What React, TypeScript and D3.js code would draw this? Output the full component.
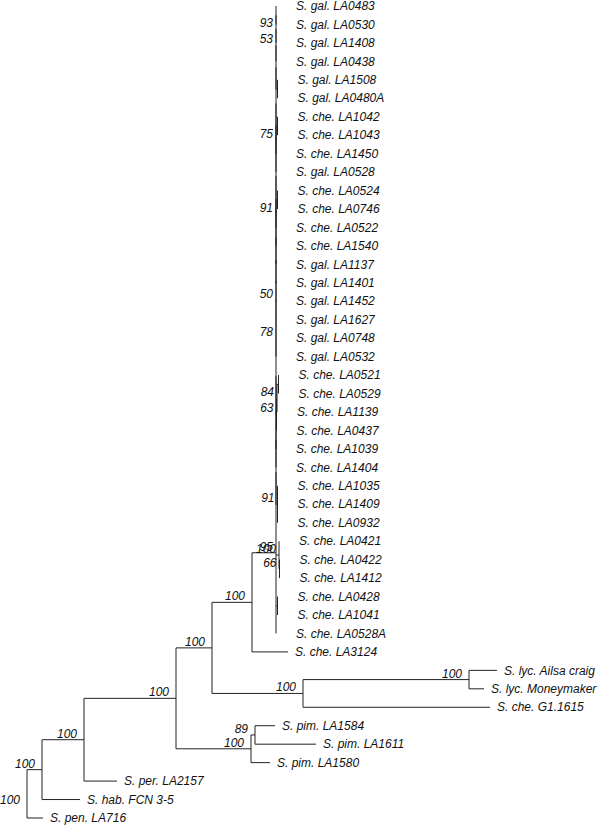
import React from 'react';
import * as d3 from 'd3';

// Leaf taxa, top to bottom
const taxa = [
  'S. gal. LA0483', 'S. gal. LA0530', 'S. gal. LA1408', 'S. gal. LA0438', 'S. gal. LA1508',
  'S. gal. LA0480A', 'S. che. LA1042', 'S. che. LA1043', 'S. che. LA1450', 'S. gal. LA0528',
  'S. che. LA0524', 'S. che. LA0746', 'S. che. LA0522', 'S. che. LA1540', 'S. gal. LA1137',
  'S. gal. LA1401', 'S. gal. LA1452', 'S. gal. LA1627', 'S. gal. LA0748', 'S. gal. LA0532',
  'S. che. LA0521', 'S. che. LA0529', 'S. che. LA1139', 'S. che. LA0437', 'S. che. LA1039',
  'S. che. LA1404', 'S. che. LA1035', 'S. che. LA1409', 'S. che. LA0932', 'S. che. LA0421',
  'S. che. LA0422', 'S. che. LA1412', 'S. che. LA0428', 'S. che. LA1041', 'S. che. LA0528A',
  'S. che. LA3124', 'S. lyc. Ailsa craig', 'S. lyc. Moneymaker', 'S. che. G1.1615', 'S. pim. LA1584',
  'S. pim. LA1611', 'S. pim. LA1580', 'S. per. LA2157', 'S. hab. FCN 3-5', 'S. pen. LA716',
];
const taxonParent = [
  'L0', 'L0', 'L1', 'L2', 'K3', 'K3', 'K6', 'K6', 'K6b', 'L6',
  'K10', 'K10', 'K10b', 'L9', 'L10', 'L11', 'L12', 'L13', 'L14', 'L15',
  'K20', 'K20', 'G84', 'G63', 'L17', 'L18', 'Z', 'Z', 'Z', 'S2',
  'S2b', 'S2b', 'S3a', 'S3a', 'J', 'F', 'H', 'H', 'G', 'I',
  'I', 'E', 'B', 'A', 'root',
];
const taxonLength = [
  0, 0, 0, 0, 0, 0, 0, 0, 0, 0,
  0, 0, 0, 0, 0, 0, 0, 0, 0, 0,
  0, 0, 0, 0, 0, 0, 0, 0, 0, 0,
  0, 0, 0, 0, 0, 0.036, 0.028, 0.015, 0.187, 0.020,
  0.061, 0.019, 0.033, 0.038, 0.016,
];

// Internal nodes
const cladeIds = [
  'root', 'A', 'B', 'C', 'D', 'E', 'I', 'F', 'G', 'H', 'J', 'Top', 'S2', 'S2b', 'S3a', 'Z',
  'L18', 'L17', 'L16', 'G63', 'G84', 'K20', 'L15', 'L14', 'L13', 'L12', 'L11', 'L10', 'L9',
  'L7', 'K10b', 'K10', 'L6', 'L4', 'K6b', 'K6', 'L3', 'K3', 'L2', 'L1', 'L0',
];
const cladeParent = [
  null, 'root', 'A', 'B', 'C', 'C', 'E', 'D', 'D', 'G', 'F', 'J', 'J', 'S2', 'J', 'Top',
  'Top', 'L18', 'L17', 'L16', 'G63', 'G84', 'L16', 'L15', 'L14', 'L13', 'L12', 'L11', 'L10',
  'L9', 'L7', 'K10b', 'L7', 'L6', 'L4', 'K6b', 'L4', 'L3', 'L3', 'L2', 'L1',
];
const cladeLength = [
  0, 0.015, 0.042, 0.092, 0.036, 0.075, 0.004, 0.040, 0.091, 0.166, 0.024, 0, 0.003, 0.0005, 0.0015, 0.0015,
  0, 0, 0, 0.0005, 0.0005, 0.0015, 0, 0, 0, 0, 0, 0, 0,
  0, 0, 0.0015, 0, 0, 0, 0.0015, 0, 0.0015, 0, 0, 0,
];
const cladeSupport = [
  100, 100, 100, 100, 100, 100, 89, 100, 100, 100, 95, null, 100, 66, null, 91,
  null, null, null, 63, 84, null, 78, null, 50, null, null, null, null,
  null, 91, null, null, null, 75, null, null, null, 53, 93, null,
];

type Row = { id: string; parent: string | null; length: number; support: number | null; leaf: number };

export default function App() {
  const rows: Row[] = [
    ...cladeIds.map((id, i) => ({ id, parent: cladeParent[i], length: cladeLength[i], support: cladeSupport[i], leaf: -1 })),
    ...taxa.map((id, i) => ({ id, parent: taxonParent[i], length: taxonLength[i], support: null, leaf: i })),
  ];
  const root: any = d3
    .stratify<Row>()
    .id((d) => d.id)
    .parentId((d) => d.parent as any)(rows);

  root.eachAfter((n: any) => {
    n.minIdx = n.children ? d3.min(n.children, (c: any) => c.minIdx) : n.data.leaf;
  });
  root.sort((a: any, b: any) => a.minIdx - b.minIdx);

  const xScale = d3.scaleLinear().domain([0, 0.5]).range([27, 527]);
  const yScale = d3.scaleLinear().domain([0, taxa.length - 1]).range([6, 818]);

  root.eachBefore((n: any) => {
    n.cum = (n.parent ? n.parent.cum : 0) + n.data.length;
    n.px = xScale(n.cum);
  });
  root.eachAfter((n: any) => {
    if (n.children) {
      n.py = (n.children[0].py + n.children[n.children.length - 1].py) / 2;
    } else {
      n.py = yScale(n.data.leaf);
    }
  });

  const nodes: any[] = root.descendants();
  const stroke = '#222';
  const font = '"Liberation Sans", Arial, sans-serif';

  return (
    <svg
      width={600}
      height={825}
      style={{ position: 'absolute', left: 0, top: 0, background: '#fff', display: 'block' }}
    >
      <g fill="none" stroke={stroke} strokeWidth={1}>
        {nodes
          .filter((n) => n.parent)
          .map((n, i) => (
            <line key={'h' + i} x1={n.parent.px} x2={n.px} y1={n.py} y2={n.py} />
          ))}
        {nodes
          .filter((n) => n.children)
          .map((n, i) => (
            <line
              key={'v' + i}
              x1={n.px}
              x2={n.px}
              y1={n.children[0].py}
              y2={n.children[n.children.length - 1].py}
            />
          ))}
      </g>
      <g fontFamily={font} fontStyle="italic" fontSize={12} fill="#111">
        {nodes
          .filter((n) => !n.children)
          .map((n, i) => {
            const br = n.parent ? n.px - n.parent.px : 10;
            return (
              <text key={'l' + i} x={n.px + (br < 3 ? 20 : 7)} y={n.py} dy="0.35em">
                {n.data.id}
              </text>
            );
          })}
        {nodes
          .filter((n) => n.children && n.data.support != null)
          .map((n, i) => {
            const isRoot = !n.parent;
            const minChild = d3.min(n.children, (c: any) => c.px - n.px) as number;
            return (
              <text
                key={'s' + i}
                x={n.px - (minChild < 3 ? 3 : 7)}
                y={isRoot ? n.py + 10 : n.py - 2}
                textAnchor="end"
              >
                {n.data.support}
              </text>
            );
          })}
      </g>
    </svg>
  );
}
